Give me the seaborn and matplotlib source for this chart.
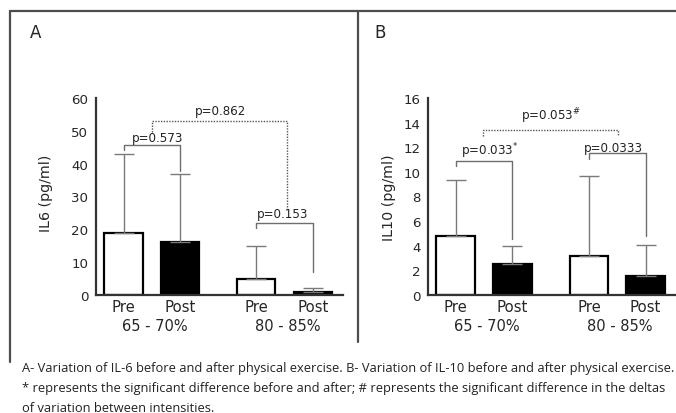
import pandas as pd
import seaborn as sns
import matplotlib.pyplot as plt
from matplotlib.lines import Line2D

# valores (media y desvio, solo barra superior)
times = ['Pre', 'Post', 'Pre', 'Post']
groups = ['65 - 70%', '65 - 70%', '80 - 85%', '80 - 85%']
il6_mean = [19, 16, 5, 1]
il6_sd = [24, 21, 9.8, 1.0]
il10_mean = [4.8, 2.5, 3.2, 1.55]
il10_sd = [4.5, 1.45, 6.5, 2.5]

# corchetes: x1, x2, altura, fin izq, fin der, texto, x texto, y texto, punteado
il6_brackets = [
    (0, 1, 45.7, 44.3, 37.8, 'p=0.573', 0.145, 46.9, False),
    (0.5, 2.9, 53.0, 49.7, 26.2, 'p=0.862', 1.265, 55.0, True),
    (2.35, 3.35, 22.0, 20.4, 7.0, 'p=0.153', 2.357, 23.7, False),
]
il10_brackets = [
    (0, 1, 10.86, 10.5, 4.55, r'p=0.033$^{*}$', 0.086, 11.45, False),
    (2.35, 3.35, 11.53, 11.05, 4.8, 'p=0.0333', 2.26, 11.72, False),
    (0.485, 2.855, 13.43, 12.94, 13.0, r'p=0.053$^{\#}$', 1.145, 14.3, True),
]

caption = [
    'A- Variation of IL-6 before and after physical exercise. B- Variation of IL-10 before and after physical exercise.',
    '* represents the significant difference before and after; # represents the significant difference in the deltas',
    'of variation between intensities.',
]

sns.set_style('white')
plt.rcParams['font.family'] = ['DejaVu Sans']
plt.rcParams['mathtext.default'] = 'regular'

GAP = 0.35
pos = [i + GAP * (i // 2) for i in range(4)]


def draw_panel(ax, means, sds, ylim, step, ylabel, brackets, label_x, label_y):
    df = pd.DataFrame({'pos': pos, 'value': means, 'time': times})
    sns.barplot(data=df, x='pos', y='value', hue='time', palette={'Pre': 'white', 'Post': 'black'},
                native_scale=True, dodge=False, width=0.68, edgecolor='black', linewidth=1.6,
                errorbar=None, legend=False, ax=ax)
    ax.errorbar(pos, means, yerr=[[0] * 4, sds], fmt='none', ecolor='#7a7a7a',
                elinewidth=1, capsize=7, capthick=1, zorder=1)

    for x1, x2, y, e1, e2, txt, tx, ty, dotted in brackets:
        ls = (0, (1, 1)) if dotted else '-'
        col = '#555555' if dotted else '#6e6e6e'
        ax.plot([x1, x1, x2, x2], [e1, y, y, e2], color=col, lw=1, ls=ls, zorder=3)
        ax.text(tx, ty, txt, fontsize=8.6, ha='left', va='baseline', color='#222222')

    ax.set_xlim(-0.487, 3.885)
    ax.set_ylim(*ylim)
    ax.set_yticks(range(0, ylim[1] + 1, step))
    ax.set_xticks(pos)
    ax.set_xticklabels(times, fontsize=10.7)
    ax.tick_params(axis='x', length=0, pad=3)
    ax.tick_params(axis='y', length=4, width=1.4, pad=1.5, labelsize=9.6, color='#333333')
    ax.set_xlabel('')
    ax.set_ylabel(ylabel, fontsize=10.3)
    ax.yaxis.set_label_coords(label_x, label_y)
    sns.despine(ax=ax)
    for s in ['left', 'bottom']:
        ax.spines[s].set_linewidth(1.6)
        ax.spines[s].set_color('#333333')

    trans = ax.get_xaxis_transform()
    for g in range(2):
        xc = (pos[2 * g] + pos[2 * g + 1]) / 2 + 0.05
        ax.text(xc, -0.157, groups[2 * g], transform=trans, ha='center', va='center', fontsize=10.5)


fig = plt.figure(figsize=(6.76, 4.14), dpi=100)
ax1 = fig.add_axes([96 / 676, 1 - 296 / 414, 247 / 676, 197 / 414])
ax2 = fig.add_axes([428 / 676, 1 - 296 / 414, 248 / 676, 197 / 414])

draw_panel(ax1, il6_mean, il6_sd, (0, 60), 10, 'IL6 (pg/ml)', il6_brackets, -0.174, 0.523)
draw_panel(ax2, il10_mean, il10_sd, (0, 16), 2, 'IL10 (pg/ml)', il10_brackets, -0.129, 0.497)

# marco de la figura
fc = '#4d4d4d'
fig.add_artist(Line2D([10 / 676, 1], [1 - 12 / 414] * 2, color=fc, lw=1.6))
fig.add_artist(Line2D([10 / 676] * 2, [1 - 12 / 414, 1 - 363 / 414], color=fc, lw=1.6))
fig.add_artist(Line2D([358 / 676] * 2, [1 - 12 / 414, 1 - 343 / 414], color=fc, lw=1.6))

fig.text(30 / 676, 1 - 33 / 414, 'A', fontsize=12, va='center')
fig.text(374 / 676, 1 - 33 / 414, 'B', fontsize=12, va='center')

# leyenda: tamaño ajustado al ancho de la primera linea, sin justificar
renderer = fig.canvas.get_renderer()
x0, x1 = 22, 672
cap_kw = dict(va='center', family='Open Sans', color='#222222')
probe = fig.text(0, 0, caption[0], fontsize=10, **cap_kw)
fs = 10 * (x1 - x0) / probe.get_window_extent(renderer).width
probe.remove()
for i, line in enumerate(caption):
    fig.text(x0 / 676, 1 - (369 + 20 * i) / 414, line, fontsize=fs, **cap_kw)

fig.savefig('out.png', dpi=100)
